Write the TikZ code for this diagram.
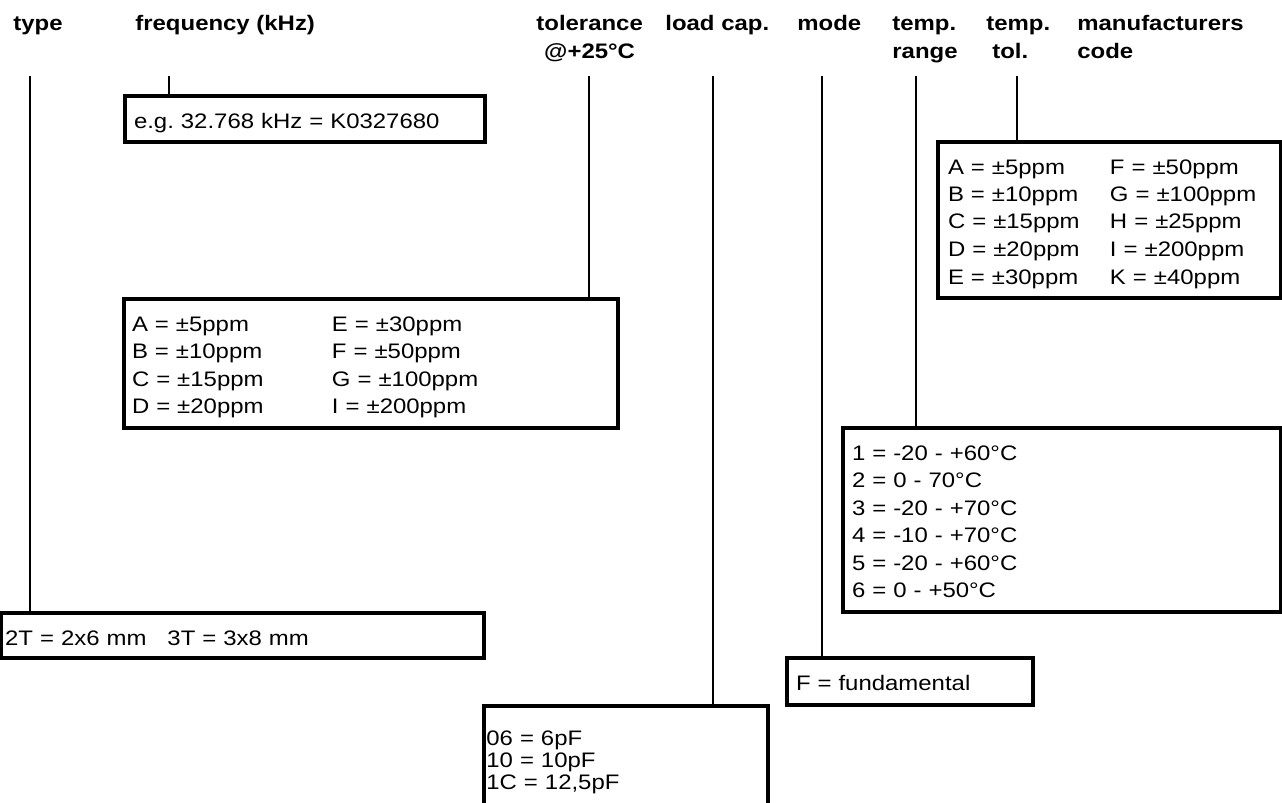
\documentclass[tikz,border=0pt]{standalone}
\usepackage{fontspec}
\setmainfont{Liberation Sans}[FakeStretch=1.14]
\frenchspacing
% struts that fix the first baseline and the bottom of a box
\newcommand\topstrut[1]{\rule{0pt}{#1}}
\newcommand\botstrut[1]{\rule[-#1]{0pt}{0pt}}

\begin{document}
\begin{tikzpicture}[x=0.5pt,y=-0.5pt,
  hd/.style={font=\fontsize{10.5}{13.5}\selectfont\bfseries,inner sep=0pt,anchor=base west,align=left},
  bx/.style={draw,line width=1.6pt,outer sep=0pt,anchor=north west,align=left,inner ysep=0pt,
    font=\fontsize{10.5}{13.75}\selectfont},
  ln/.style={line width=0.9pt}]
  \useasboundingbox (0,0) rectangle (1282,803);
  \clip (0,0) rectangle (1282,803);
  % headings (two-line ones sit on their last baseline)
  \node[hd] (h-type) at (13,31) {type};
  \node[hd] (h-freq) at (135,31) {frequency (kHz)};
  \node[hd,align=center] (h-tol) at (536,58) {tolerance\\@+25°C};
  \node[hd] (h-load) at (665,31) {load cap.};
  \node[hd] (h-mode) at (797,31) {mode};
  \node[hd] (h-range) at (892,58) {temp.\\range};
  \node[hd] (h-ttol) at (986,58) {temp.\\\hspace*{0.28em}tol.};
  \node[hd] (h-code) at (1077,58) {manufacturers\\code};
  % tops of the lead lines
  \coordinate (ty) at (30,76);
  \coordinate (fq) at (169,76);
  \coordinate (tl) at (589,76);
  \coordinate (lc) at (713,76);
  \coordinate (md) at (822,76);
  \coordinate (tr) at (916,76);
  \coordinate (tt) at (1017,76);
  % code boxes
  \node[bx,text width=171pt,inner xsep=4.5pt] (fqbox) at (125,96)
    {\rule[-7pt]{0pt}{23pt}e.g. 32.768 kHz = K0327680};
  \node[bx,text width=239pt,inner xsep=4pt] (tlbox) at (124,299)
    {\topstrut{16pt}\makebox[100pt][l]{A = ±5ppm}E = ±30ppm\\
     \makebox[100pt][l]{B = ±10ppm}F = ±50ppm\\
     \makebox[100pt][l]{C = ±15ppm}G = ±100ppm\\
     \makebox[100pt][l]{D = ±20ppm}I = ±200ppm\botstrut{7.25pt}};
  \node[bx,text width=161.25pt,inner xsep=5pt] (ttbox) at (938,142)
    {\topstrut{16pt}\makebox[81pt][l]{A = ±5ppm}F = ±50ppm\\
     \makebox[81pt][l]{B = ±10ppm}G = ±100ppm\\
     \makebox[81pt][l]{C = ±15ppm}H = ±25ppm\\
     \makebox[81pt][l]{D = ±20ppm}I = ±200ppm\\
     \makebox[81pt][l]{E = ±30ppm}K = ±40ppm\botstrut{7pt}};
  \node[bx,text width=209.75pt,inner xsep=4.5pt] (trbox) at (843,428)
    {\topstrut{16pt}1 = -20 - +60°C\\
     2 = 0 - 70°C\\
     3 = -20 - +70°C\\
     4 = -10 - +70°C\\
     5 = -20 - +60°C\\
     6 = 0 - +50°C\botstrut{7.25pt}};
  \node[bx,text width=237.65pt,inner xsep=1.8pt] (tybox) at (1.5,613)
    {\rule[-6.5pt]{0pt}{22.5pt}2T = 2x6 mm\ \ \ 3T = 3x8 mm};
  \node[bx,text width=114pt,inner xsep=4.5pt] (mdbox) at (787,658)
    {\rule[-7.5pt]{0pt}{23.5pt}F = fundamental};
  \node[bx,text width=139.6pt,inner xsep=1.2pt,
    font=\fontsize{10.5}{11}\selectfont] (lcbox) at (484,706)
    {\topstrut{19.5pt}06 = 6pF\\
     10 = 10pF\\
     1C = 12,5pF\botstrut{13.5pt}};
  % lead lines
  \draw[ln] (ty) -- (ty |- tybox.north);
  \draw[ln] (fq) -- (fq |- fqbox.north);
  \draw[ln] (tl) -- (tl |- tlbox.north);
  \draw[ln] (lc) -- (lc |- lcbox.north);
  \draw[ln] (md) -- (md |- mdbox.north);
  \draw[ln] (tr) -- (tr |- trbox.north);
  \draw[ln] (tt) -- (tt |- ttbox.north);
\end{tikzpicture}
\end{document}
